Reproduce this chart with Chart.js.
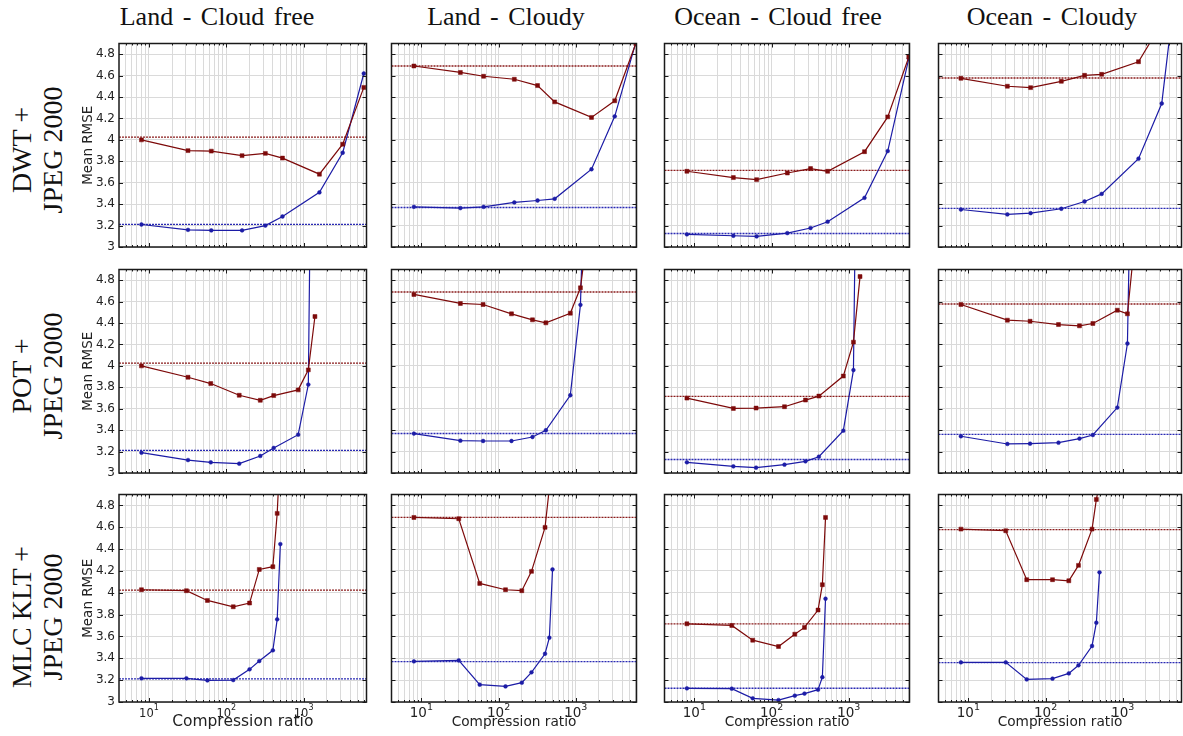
<!DOCTYPE html>
<html>
<head>
<meta charset="utf-8">
<script src="https://cdn.jsdelivr.net/npm/chart.js@4.4.1/dist/chart.umd.min.js"></script>
<style>
  html, body { margin: 0; padding: 0; background: #fff; overflow: hidden; }
  #fig { position: relative; width: 1183px; height: 736px; }
  canvas { position: absolute; }
  .coltitle { position: absolute; top: 2px; font-family: 'Liberation Serif', serif; font-size: 26px; line-height: 30px;
              white-space: nowrap; word-spacing: 3px; transform: translateX(-50%); color: #111; }
  .rowlabel { position: absolute; font-family: 'Liberation Serif', serif; font-size: 28px; line-height: 31px; color: #111;
              text-align: center; white-space: nowrap; transform: translate(-50%, -50%) rotate(-90deg); }
</style>
</head>
<body>
<div id="fig"></div>
<script>
// ---- data ----
const scenes = ['Land - Cloud free', 'Land - Cloudy', 'Ocean - Cloud free', 'Ocean - Cloudy'];

// compression ratios (x) per method
const ratioDWT = [8, 32, 64, 160, 320, 533, 1600, 3200, 6000];
const ratioPOT = [8, 32, 63, 147, 275, 410, 850, 1150, 1400];
const ratioKLT = [8, 30.5, 57, 123, 200, 267, 400, 455, 500];

// dotted reference levels per scene
const refRed = [4.025, 4.69, 3.716, 4.578];
const refBlue = [3.212, 3.369, 3.126, 3.36];

// mean RMSE, one array per scene (red = squares, blue = circles)
const dwtRed = [
  [4.00, 3.90, 3.895, 3.853, 3.874, 3.83, 3.68, 3.96, 4.49],
  [4.69, 4.63, 4.594, 4.566, 4.507, 4.355, 4.21, 4.365, 4.9],
  [3.707, 3.648, 3.629, 3.691, 3.732, 3.707, 3.89, 4.215, 4.774],
  [4.575, 4.501, 4.488, 4.547, 4.603, 4.612, 4.73, 5.09, 5.6]
];
const dwtBlue = [
  [3.21, 3.16, 3.155, 3.155, 3.20, 3.285, 3.51, 3.88, 4.62],
  [3.375, 3.363, 3.375, 3.416, 3.434, 3.45, 3.726, 4.22, 4.91],
  [3.118, 3.105, 3.099, 3.13, 3.177, 3.236, 3.459, 3.896, 4.761],
  [3.35, 3.304, 3.316, 3.357, 3.425, 3.496, 3.825, 4.34, 6.0]
];
const potRed = [
  [4.0, 3.894, 3.835, 3.726, 3.679, 3.723, 3.776, 3.963, 4.461],
  [4.667, 4.583, 4.573, 4.486, 4.43, 4.402, 4.492, 4.729, 5.2],
  [3.699, 3.603, 3.606, 3.619, 3.681, 3.718, 3.905, 4.222, 4.834],
  [4.573, 4.427, 4.417, 4.386, 4.374, 4.396, 4.52, 4.486, 5.1]
];
const potBlue = [
  [3.19, 3.121, 3.10, 3.087, 3.159, 3.234, 3.358, 3.826, 9.5],
  [3.368, 3.302, 3.299, 3.299, 3.336, 3.399, 3.726, 4.57, 6.6],
  [3.10, 3.062, 3.05, 3.078, 3.109, 3.152, 3.395, 3.961, 8.9],
  [3.343, 3.271, 3.274, 3.283, 3.321, 3.355, 3.611, 4.209, 7.5]
];
const kltRed = [
  [4.028, 4.019, 3.93, 3.872, 3.906, 4.214, 4.239, 4.727, 5.32],
  [4.69, 4.678, 4.086, 4.028, 4.019, 4.196, 4.599, 4.96, 5.2],
  [3.716, 3.701, 3.566, 3.508, 3.621, 3.683, 3.842, 4.074, 4.69],
  [4.583, 4.568, 4.12, 4.12, 4.11, 4.251, 4.583, 4.855, 5.0]
];
const kltBlue = [
  [3.217, 3.217, 3.198, 3.201, 3.299, 3.375, 3.473, 3.757, 4.446],
  [3.372, 3.381, 3.159, 3.143, 3.177, 3.272, 3.442, 3.589, 4.214],
  [3.125, 3.122, 3.034, 3.018, 3.058, 3.077, 3.113, 3.227, 3.946],
  [3.363, 3.363, 3.207, 3.214, 3.262, 3.336, 3.513, 3.726, 4.187]
];

// axis ticks
const rmseTicks = [3, 3.2, 3.4, 3.6, 3.8, 4, 4.2, 4.4, 4.6, 4.8];
const ratioTicks = [5, 6, 7, 8, 9, 10, 20, 30, 40, 50, 60, 70, 80, 90, 100, 200, 300, 400, 500, 600, 700, 800, 900,
                    1000, 2000, 3000, 4000, 5000, 6000];
const decadeExp = { 10: '1', 100: '2', 1000: '3' };

const rows = [
  { label: ['DWT +', 'JPEG 2000'], ratio: ratioDWT, red: dwtRed, blue: dwtBlue },
  { label: ['POT +', 'JPEG 2000'], ratio: ratioPOT, red: potRed, blue: potBlue },
  { label: ['MLC KLT +', 'JPEG 2000'], ratio: ratioKLT, red: kltRed, blue: kltBlue }
];

// ---- layout ----
const colLeft = [119, 391, 664, 938];
const colWidth = [248, 246, 246, 244];
const rowTop = [43, 269, 494];
const rowHeight = [204, 204, 208];
const titleCenter = [217, 506, 778, 1052];
const rowLabelCenter = [150, 376, 617];
const DECADE = 77.5; // px per decade on the x axis
const X_MIN = 4.1;
const RED = '#7d0a0a';
const BLUE = '#1c1ca6';
const GRID = '#dadada';

const fig = document.getElementById('fig');

// box round the plot area with inward ticks, plus 10^n labels
const frame = {
  id: 'frame',
  afterDraw(chart, args, opts) {
    const { ctx, chartArea: a, scales: { x, y } } = chart;
    ctx.save();
    ctx.strokeStyle = '#1a1a1a';
    ctx.lineWidth = 1;
    ctx.beginPath();
    y.ticks.forEach(t => {
      const py = Math.round(y.getPixelForValue(t.value)) + 0.5;
      ctx.moveTo(a.left, py); ctx.lineTo(a.left + 4, py);
      ctx.moveTo(a.right, py); ctx.lineTo(a.right - 4, py);
    });
    x.ticks.forEach(t => {
      const px = Math.round(x.getPixelForValue(t.value)) + 0.5;
      const len = decadeExp[t.value] ? 4 : 2;
      ctx.moveTo(px, a.top); ctx.lineTo(px, a.top + len);
      ctx.moveTo(px, a.bottom); ctx.lineTo(px, a.bottom - len);
    });
    ctx.stroke();
    ctx.lineWidth = 1.5;
    ctx.strokeRect(a.left, a.top, a.right - a.left, a.bottom - a.top);

    if (opts.tickLabels) {
      ctx.fillStyle = '#222';
      ctx.textAlign = 'left';
      ctx.textBaseline = 'alphabetic';
      x.ticks.forEach(t => {
        const e = decadeExp[t.value];
        if (!e) return;
        const px = x.getPixelForValue(t.value);
        ctx.font = opts.base + 'px "DejaVu Sans"';
        const wb = ctx.measureText('10').width;
        ctx.font = opts.sup + 'px "DejaVu Sans"';
        const ws = ctx.measureText(e).width;
        const left = px - (wb + ws) / 2;
        ctx.font = opts.base + 'px "DejaVu Sans"';
        ctx.fillText('10', left, a.bottom + 15);
        ctx.font = opts.sup + 'px "DejaVu Sans"';
        ctx.fillText(e, left + wb, a.bottom + 7.5);
      });
    }
    ctx.restore();
  }
};

function series(xs, ys, color, style, radius) {
  return {
    data: xs.map((v, i) => ({ x: v, y: ys[i] })),
    borderColor: color,
    backgroundColor: color,
    borderWidth: 1.2,
    pointStyle: style,
    pointRadius: radius,
    pointBorderWidth: 0.5,
    tension: 0
  };
}

function refLine(level, xMax, color) {
  return {
    data: [{ x: X_MIN, y: level }, { x: xMax, y: level }],
    borderColor: color,
    borderWidth: 1.3,
    borderDash: [2, 1],
    pointRadius: 0
  };
}

scenes.forEach((scene, c) => {
  const t = document.createElement('div');
  t.className = 'coltitle';
  t.style.left = titleCenter[c] + 'px';
  t.textContent = scene;
  fig.appendChild(t);
});

rows.forEach((row, r) => {
  const lab = document.createElement('div');
  lab.className = 'rowlabel';
  lab.style.left = '36.5px';
  lab.style.top = rowLabelCenter[r] + 'px';
  lab.innerHTML = row.label.join('<br>');
  fig.appendChild(lab);

  scenes.forEach((scene, c) => {
    const yW = c === 0 ? 39 : 4;
    const xH = r === 2 ? 31 : 10;
    const w = colWidth[c], h = rowHeight[r];
    const canvas = document.createElement('canvas');
    canvas.width = yW + w + 4;
    canvas.height = 4 + h + xH;
    canvas.style.left = (colLeft[c] - yW) + 'px';
    canvas.style.top = (rowTop[r] - 4) + 'px';
    fig.appendChild(canvas);

    const xMax = X_MIN * Math.pow(10, w / DECADE);
    const titleSize = c === 0 ? 15.5 : 13.7;

    new Chart(canvas, {
      type: 'line',
      data: {
        datasets: [
          series(row.ratio, row.red[c], RED, 'rect', 2.8),
          series(row.ratio, row.blue[c], BLUE, 'circle', 1.9),
          refLine(refRed[c], xMax, '#8a1c1c'),
          refLine(refBlue[c], xMax, '#2a2ab4')
        ]
      },
      options: {
        responsive: false,
        animation: false,
        events: [],
        layout: { padding: { left: 0, top: 4, right: 4, bottom: 0 } },
        plugins: {
          legend: { display: false },
          tooltip: { enabled: false },
          frame: { tickLabels: r === 2, base: c === 0 ? 11.5 : 13.5, sup: c === 0 ? 8 : 9.5 }
        },
        scales: {
          x: {
            type: 'logarithmic',
            min: X_MIN,
            max: xMax,
            afterBuildTicks: s => { s.ticks = ratioTicks.filter(v => v > X_MIN && v < xMax).map(v => ({ value: v })); },
            afterFit: s => { s.height = xH; s.paddingLeft = 0; s.paddingRight = 0; },
            grid: { color: GRID, lineWidth: 1, drawTicks: false },
            border: { display: false },
            ticks: { display: false, autoSkip: false },
            title: {
              display: r === 2,
              text: 'Compression ratio',
              color: '#222',
              padding: { top: 0, bottom: c === 0 ? 1.7 : 2.8 },
              font: { family: 'DejaVu Sans', size: titleSize }
            }
          },
          y: {
            min: 3,
            max: 4.9,
            afterBuildTicks: s => { s.ticks = rmseTicks.map(v => ({ value: v })); },
            afterFit: s => { s.width = yW; s.paddingTop = 0; s.paddingBottom = 0; },
            grid: { color: GRID, lineWidth: 1, drawTicks: false },
            border: { display: false },
            ticks: {
              display: c === 0,
              padding: 4,
              color: '#222',
              font: { family: 'DejaVu Sans', size: 12 },
              callback: v => String(v)
            },
            title: {
              display: c === 0,
              text: 'Mean RMSE',
              color: '#222',
              padding: 0,
              font: { family: 'DejaVu Sans', size: 13.5 }
            }
          }
        }
      },
      plugins: [frame]
    });
  });
});
</script>
</body>
</html>
